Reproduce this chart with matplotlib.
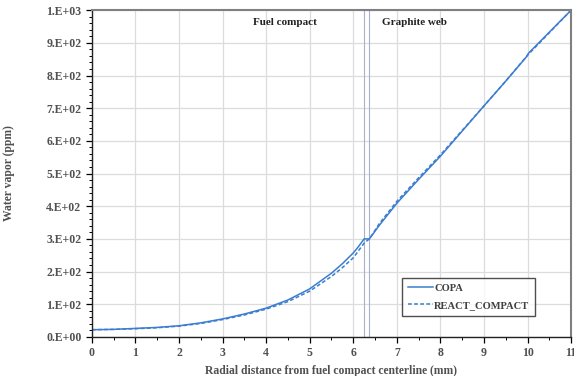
import numpy as np
import matplotlib
matplotlib.use("Agg")
import matplotlib.pyplot as plt
from matplotlib.ticker import MultipleLocator, FuncFormatter

# radial position (mm) and water vapour (ppm)
r_copa = [0, 0.5, 1, 1.5, 2, 2.5, 3, 3.5, 4, 4.5, 5, 5.5, 5.75, 6, 6.1, 6.25, 6.37,
          6.6, 7, 7.5, 8, 8.5, 9, 9.5, 9.98, 10.02, 11]
h2o_copa = [22, 23, 26, 29, 34, 43, 55, 70, 88, 113, 147, 195, 224, 257, 273, 300, 300,
            342, 409, 482, 553, 630, 707, 783, 858, 868, 1000]

r_react = [0, 0.5, 1, 1.5, 2, 2.5, 3, 3.5, 4, 4.5, 5, 5.5, 5.75, 6, 6.1, 6.25, 6.37,
           6.6, 7, 7.5, 8, 8.5, 9, 9.5, 10, 11]
h2o_react = [22, 23, 25, 28, 33, 41, 53, 67, 85, 108, 140, 185, 212, 242, 260, 287, 300,
             347, 415, 487, 557, 632, 707, 783, 862, 1000]

boundaries = [6.25, 6.37]
regions = ["Fuel compact", "Graphite web"]
region_x = [4.43, 7.41]

BLUE = "#3b7dd0"
SERIF = ["Liberation Serif", "DejaVu Serif"]
plt.rcParams["font.family"] = SERIF
plt.rcParams["font.weight"] = "bold"


def sci_fmt(v, pos):
    if v == 0:
        return "0.E+00"
    exp = int(np.floor(np.log10(abs(v)) + 1e-9))
    mant = v / 10 ** exp
    return f"{mant:.0f}.E+{exp:02d}"


fig = plt.figure(figsize=(5.74, 3.76), dpi=100)
ax = fig.add_axes([0.160, 0.104, 0.835, 0.869])

ax.plot(r_copa, h2o_copa, color=BLUE, lw=1.1, label="COPA")
ax.plot(r_react, h2o_react, color=BLUE, lw=1.1, ls=(0, (2.5, 1.5)), label="REACT_COMPACT")
for b in boundaries:
    ax.axvline(b, color="#a8b0cc", lw=0.8, zorder=1)
for name, x in zip(regions, region_x):
    ax.text(x, 963, name, ha="center", va="center", fontsize=8,
            fontweight="bold", color="#222222")

ax.set_xlim(0, 11)
ax.set_ylim(0, 1000)
ax.xaxis.set_major_locator(MultipleLocator(1))
ax.xaxis.set_minor_locator(MultipleLocator(0.5))
ax.yaxis.set_major_locator(MultipleLocator(100))
ax.yaxis.set_minor_locator(MultipleLocator(20))
ax.yaxis.set_major_formatter(FuncFormatter(sci_fmt))
ax.grid(True, which="major", color="#dcdcdc", lw=0.9, zorder=0)
ax.set_axisbelow(True)

ax.tick_params(which="major", direction="out", length=4, width=0.9,
               labelsize=8.5, labelcolor="#505050")
ax.tick_params(which="minor", direction="out", length=2, width=0.7)
for s in ["top", "right"]:
    ax.spines[s].set_color("#808080")
    ax.spines[s].set_linewidth(1.5)
for s in ["left", "bottom"]:
    ax.spines[s].set_color("#222222")
    ax.spines[s].set_linewidth(1.0)

ax.set_xlabel("Radial distance from fuel compact centerline (mm)", fontsize=8.4,
              fontweight="bold", color="#505050", labelpad=4)
ax.set_ylabel("Water vapor (ppm)", fontsize=8.4, fontweight="bold",
              color="#505050", labelpad=22)

leg = ax.legend(loc="lower right", bbox_to_anchor=(0.925, 0.064), fontsize=7.6,
                frameon=True, fancybox=False, edgecolor="#222222",
                handlelength=2.3, handletextpad=0.15, borderpad=0.55,
                labelspacing=0.75, borderaxespad=0)
leg.get_frame().set_linewidth(1.0)
for t in leg.get_texts():
    t.set_color("#404040")

fig.savefig("out.png", dpi=100)
